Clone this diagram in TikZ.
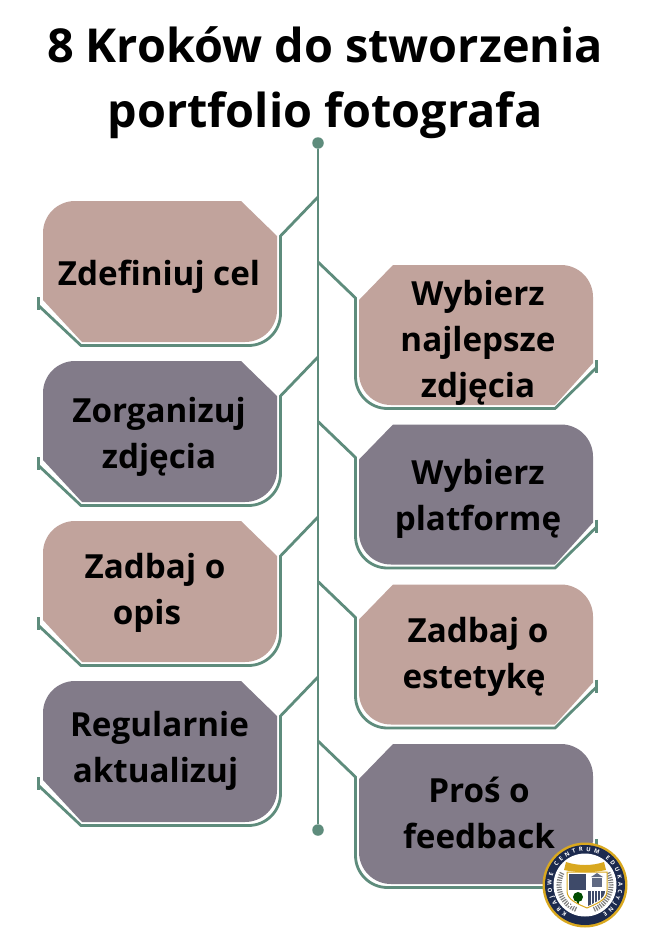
\documentclass[tikz,border=0pt]{standalone}
\usepackage{fontspec}
\setmainfont{Open Sans}
\usepackage{xcolor}
\usepackage{tikz}
\usetikzlibrary{decorations.text}
\definecolor{rose}{HTML}{C1A39C}
\definecolor{mauve}{HTML}{827B89}
\definecolor{sage}{HTML}{5E8C7C}
\definecolor{navy}{HTML}{1C2A4E}
\definecolor{gold}{HTML}{D9A81F}
\tikzset{
  spine/.style={draw=sage, line width=2.8pt},
  trace/.style={draw=sage, line width=2.8pt},
  tick/.style={draw=sage, line width=2.6pt},
  enddot/.style={circle, fill=sage, inner sep=0pt, minimum size=11.5pt},
  titlelab/.style={font=\fontsize{46.8}{65}\selectfont\bfseries, align=center, text=black},
  lab/.style={font=\fontsize{33.2}{46}\selectfont\bfseries, align=center, text=black},
  pics/leftcard/.style={code={
    \fill[#1] (198,0) [rounded corners=32pt] -- (0,0) [sharp corners] -- (0,99) -- (39,141)
      [rounded corners=32pt] -- (234,141) [sharp corners] -- (234,35) -- cycle;
    \draw[trace] (-4,105) -- (38,144.5) [rounded corners=32pt] -- (237.5,144.5) [sharp corners] -- (237.5,35) -- (275,-4);
    \draw[tick] (-4.5,96) -- (-4.5,109);
  }},
  pics/rightcard/.style={code={
    \fill[#1] (34,0) -- (0,35) [rounded corners=32pt] -- (0,140) [sharp corners] -- (196,140) -- (234,98)
      [rounded corners=32pt] -- (234,0) [sharp corners] -- cycle;
    \draw[trace] (-41,-3) -- (-3.5,33) [rounded corners=32pt] -- (-3.5,143.5) [sharp corners] -- (196,143.5) -- (237,103);
    \draw[tick] (237.5,95) -- (237.5,108);
  }},
}

\begin{document}
\begin{tikzpicture}[x=1pt,y=-1pt]
  \useasboundingbox (0,0) rectangle (650,950);
  \fill[white] (0,0) rectangle (650,950);
  \node[titlelab] (title) at (325,82.5) {8 Kroków do stworzenia\\portfolio fotografa};
  % spine
  \node[enddot] (spinetop) at (318,143) {};
  \node[enddot] (spinebot) at (318,830) {};
  \draw[spine] (spinetop) -- (spinebot);
  % left column
  \pic at (43,201) {leftcard=rose};
  \pic at (43,361) {leftcard=mauve};
  \pic at (43,521) {leftcard=rose};
  \pic at (43,681) {leftcard=mauve};
  % right column
  \pic at (359,265) {rightcard=rose};
  \pic at (359,424.5) {rightcard=mauve};
  \pic at (359,584.5) {rightcard=rose};
  \pic at (359,744) {rightcard=mauve};
  \node[lab] (cel) at (159,277) {Zdefiniuj cel};
  \node[lab] (zorg) at (159,436.5) {Zorganizuj\\zdjęcia};
  \node[lab] (opis) at (155,592.5) {Zadbaj o\\opis\hspace{16pt}\mbox{}};
  \node[lab] (aktual) at (159.5,751) {Regularnie\\aktualizuj\hspace{8pt}\mbox{}};
  \node[lab] (najl) at (478,343) {Wybierz\\najlepsze\\zdjęcia};
  \node[lab] (platf) at (478,499) {Wybierz\\platformę};
  \node[lab] (estet) at (478,657) {Zadbaj o\\estetykę\hspace{8pt}\mbox{}};
  \node[lab] (feedb) at (479,812.5) {Proś o\\feedback};
  % seal in the corner
  \coordinate (seal) at (585,885);
  \fill[gold] (seal) circle (42.5pt);
  \fill[navy] (seal) circle (40pt);
  \fill[white] (seal) circle (31.5pt);
  \path[postaction={decorate}, decoration={text along path, text align={fit to path},
    text={|\fontsize{5.8}{6}\selectfont\bfseries\color{white}|KRAJOWE CENTRUM EDUKACYJNE}}]
    (seal) ++(-122:33.5pt) arc (-122:-418:33.5pt);
  % wreath
  \draw[gray, line width=5pt, dash pattern=on 1.2pt off 1.2pt] (seal) ++(-70:26pt) arc (-70:30:26pt);
  \draw[gray, line width=5pt, dash pattern=on 1.2pt off 1.2pt] (seal) ++(-110:26pt) arc (-110:-210:26pt);
  % shield
  \fill[white] (567,872) -- (607,872) -- (607,891) .. controls (607,900) and (596,904) .. (587,908)
    .. controls (578,904) and (567,900) .. (567,891) -- cycle;
  \fill[navy!85] (569,874) rectangle (586,890);
  \draw[white, line width=0.6pt, step=3pt, xshift=569pt, yshift=-890pt] (0,0) grid (17,16);
  \fill[navy!85] (588,891) -- (605,891) .. controls (605,899) and (595,902) .. (588,906) -- cycle;
  \draw[white, line width=0.5pt] (591,891) -- (591,904) (594,891) -- (594,903) (597,891) -- (597,901) (600,891) -- (600,899);
  \fill[navy!70] (592,878) rectangle (602,887);
  \fill[navy!70] (591,877) -- (597,873) -- (603,877) -- cycle;
  \fill[black!70!green] (578,897) circle (5pt);
  \fill[black!70!green] (577.3,897) rectangle (578.7,904);
  \draw[gold, line width=1pt] (567,872) -- (607,872) -- (607,891) .. controls (607,900) and (596,904) .. (587,908)
    .. controls (578,904) and (567,900) .. (567,891) -- cycle;
  % banner
  \fill[gold] (566,862) .. controls (578,866) and (592,866) .. (604,862) -- (606,870) .. controls (592,873) and (578,873) .. (564,870) -- cycle;
\end{tikzpicture}
\end{document}
